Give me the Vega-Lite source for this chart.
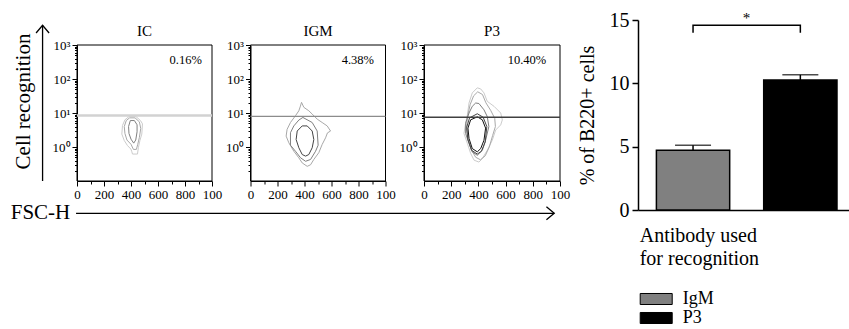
{
  "$schema": "https://vega.github.io/schema/vega-lite/v6.json",
  "padding": {"left": 10, "top": 10, "right": 0, "bottom": 0},
  "datasets": {
    "contours": [
      {"p":"IC","c":"IC1","l":"l1","o":0,"x":386,"y":7.9},{"p":"IC","c":"IC1","l":"l1","o":1,"x":436,"y":7.9},{"p":"IC","c":"IC1","l":"l1","o":2,"x":470,"y":6.0},{"p":"IC","c":"IC1","l":"l1","o":3,"x":485,"y":4.8},{"p":"IC","c":"IC1","l":"l1","o":4,"x":480,"y":2.4},{"p":"IC","c":"IC1","l":"l1","o":5,"x":466,"y":1.55},{"p":"IC","c":"IC1","l":"l1","o":6,"x":455,"y":0.98},{"p":"IC","c":"IC1","l":"l1","o":7,"x":448,"y":0.62},{"p":"IC","c":"IC1","l":"l1","o":8,"x":411,"y":0.62},{"p":"IC","c":"IC1","l":"l1","o":9,"x":405,"y":0.75},{"p":"IC","c":"IC1","l":"l1","o":10,"x":399,"y":0.87},{"p":"IC","c":"IC1","l":"l1","o":11,"x":374,"y":1.1},{"p":"IC","c":"IC1","l":"l1","o":12,"x":350,"y":1.55},{"p":"IC","c":"IC1","l":"l1","o":13,"x":332,"y":2.4},{"p":"IC","c":"IC1","l":"l1","o":14,"x":337,"y":4.3},{"p":"IC","c":"IC1","l":"l1","o":15,"x":355,"y":6.3},
      {"p":"IC","c":"IC2","l":"l2","o":0,"x":390,"y":7.2},{"p":"IC","c":"IC2","l":"l2","o":1,"x":430,"y":7.2},{"p":"IC","c":"IC2","l":"l2","o":2,"x":462,"y":5.5},{"p":"IC","c":"IC2","l":"l2","o":3,"x":472,"y":3.5},{"p":"IC","c":"IC2","l":"l2","o":4,"x":462,"y":1.9},{"p":"IC","c":"IC2","l":"l2","o":5,"x":450,"y":1.2},{"p":"IC","c":"IC2","l":"l2","o":6,"x":440,"y":0.85},{"p":"IC","c":"IC2","l":"l2","o":7,"x":418,"y":0.85},{"p":"IC","c":"IC2","l":"l2","o":8,"x":400,"y":1.2},{"p":"IC","c":"IC2","l":"l2","o":9,"x":370,"y":1.6},{"p":"IC","c":"IC2","l":"l2","o":10,"x":355,"y":2.5},{"p":"IC","c":"IC2","l":"l2","o":11,"x":350,"y":4.0},{"p":"IC","c":"IC2","l":"l2","o":12,"x":365,"y":6.0},
      {"p":"IC","c":"IC3","l":"l3","o":0,"x":395,"y":6.0},{"p":"IC","c":"IC3","l":"l3","o":1,"x":425,"y":6.0},{"p":"IC","c":"IC3","l":"l3","o":2,"x":445,"y":4.5},{"p":"IC","c":"IC3","l":"l3","o":3,"x":445,"y":2.8},{"p":"IC","c":"IC3","l":"l3","o":4,"x":435,"y":1.6},{"p":"IC","c":"IC3","l":"l3","o":5,"x":420,"y":1.3},{"p":"IC","c":"IC3","l":"l3","o":6,"x":400,"y":1.7},{"p":"IC","c":"IC3","l":"l3","o":7,"x":385,"y":2.5},{"p":"IC","c":"IC3","l":"l3","o":8,"x":382,"y":4.0},
      {"p":"IGM","c":"G1","l":"l2","o":0,"x":378,"y":20.6},{"p":"IGM","c":"G1","l":"l2","o":1,"x":395,"y":14.7},{"p":"IGM","c":"G1","l":"l2","o":2,"x":432,"y":11.6},{"p":"IGM","c":"G1","l":"l2","o":3,"x":457,"y":9.3},{"p":"IGM","c":"G1","l":"l2","o":4,"x":494,"y":6.6},{"p":"IGM","c":"G1","l":"l2","o":5,"x":531,"y":5.25},{"p":"IGM","c":"G1","l":"l2","o":6,"x":568,"y":4.17},{"p":"IGM","c":"G1","l":"l2","o":7,"x":593,"y":2.95},{"p":"IGM","c":"G1","l":"l2","o":8,"x":570,"y":2.6},{"p":"IGM","c":"G1","l":"l2","o":9,"x":556,"y":1.86},{"p":"IGM","c":"G1","l":"l2","o":10,"x":531,"y":1.19},{"p":"IGM","c":"G1","l":"l2","o":11,"x":506,"y":0.68},{"p":"IGM","c":"G1","l":"l2","o":12,"x":469,"y":0.43},{"p":"IGM","c":"G1","l":"l2","o":13,"x":445,"y":0.3},{"p":"IGM","c":"G1","l":"l2","o":14,"x":420,"y":0.27},{"p":"IGM","c":"G1","l":"l2","o":15,"x":383,"y":0.34},{"p":"IGM","c":"G1","l":"l2","o":16,"x":358,"y":0.48},{"p":"IGM","c":"G1","l":"l2","o":17,"x":321,"y":0.75},{"p":"IGM","c":"G1","l":"l2","o":18,"x":284,"y":1.33},{"p":"IGM","c":"G1","l":"l2","o":19,"x":264,"y":2.09},{"p":"IGM","c":"G1","l":"l2","o":20,"x":271,"y":3.3},{"p":"IGM","c":"G1","l":"l2","o":21,"x":296,"y":5.25},{"p":"IGM","c":"G1","l":"l2","o":22,"x":333,"y":8.3},{"p":"IGM","c":"G1","l":"l2","o":23,"x":358,"y":11.6},{"p":"IGM","c":"G1","l":"l2","o":24,"x":370,"y":16},
      {"p":"IGM","c":"G2","l":"l3","o":0,"x":388,"y":7.4},{"p":"IGM","c":"G2","l":"l3","o":1,"x":457,"y":5.25},{"p":"IGM","c":"G2","l":"l3","o":2,"x":494,"y":2.95},{"p":"IGM","c":"G2","l":"l3","o":3,"x":501,"y":1.13},{"p":"IGM","c":"G2","l":"l3","o":4,"x":482,"y":0.75},{"p":"IGM","c":"G2","l":"l3","o":5,"x":445,"y":0.43},{"p":"IGM","c":"G2","l":"l3","o":6,"x":408,"y":0.38},{"p":"IGM","c":"G2","l":"l3","o":7,"x":371,"y":0.48},{"p":"IGM","c":"G2","l":"l3","o":8,"x":333,"y":0.75},{"p":"IGM","c":"G2","l":"l3","o":9,"x":296,"y":1.13},{"p":"IGM","c":"G2","l":"l3","o":10,"x":296,"y":2.63},{"p":"IGM","c":"G2","l":"l3","o":11,"x":321,"y":4.17},{"p":"IGM","c":"G2","l":"l3","o":12,"x":358,"y":6.2},
      {"p":"IGM","c":"G3","l":"l4","o":0,"x":383,"y":4.17},{"p":"IGM","c":"G3","l":"l4","o":1,"x":420,"y":4.17},{"p":"IGM","c":"G3","l":"l4","o":2,"x":457,"y":2.95},{"p":"IGM","c":"G3","l":"l4","o":3,"x":469,"y":1.66},{"p":"IGM","c":"G3","l":"l4","o":4,"x":457,"y":0.95},{"p":"IGM","c":"G3","l":"l4","o":5,"x":432,"y":0.6},{"p":"IGM","c":"G3","l":"l4","o":6,"x":408,"y":0.54},{"p":"IGM","c":"G3","l":"l4","o":7,"x":383,"y":0.6},{"p":"IGM","c":"G3","l":"l4","o":8,"x":358,"y":0.95},{"p":"IGM","c":"G3","l":"l4","o":9,"x":338,"y":1.66},{"p":"IGM","c":"G3","l":"l4","o":10,"x":346,"y":2.95},
      {"p":"P3","c":"P1","l":"l1","o":0,"x":392,"y":55},{"p":"P3","c":"P1","l":"l1","o":1,"x":417,"y":51},{"p":"P3","c":"P1","l":"l1","o":2,"x":441,"y":39},{"p":"P3","c":"P1","l":"l1","o":3,"x":465,"y":22},{"p":"P3","c":"P1","l":"l1","o":4,"x":515,"y":15.7},{"p":"P3","c":"P1","l":"l1","o":5,"x":564,"y":10},{"p":"P3","c":"P1","l":"l1","o":6,"x":576,"y":6.3},{"p":"P3","c":"P1","l":"l1","o":7,"x":564,"y":4.47},{"p":"P3","c":"P1","l":"l1","o":8,"x":527,"y":3.16},{"p":"P3","c":"P1","l":"l1","o":9,"x":502,"y":1.58},{"p":"P3","c":"P1","l":"l1","o":10,"x":465,"y":0.8},{"p":"P3","c":"P1","l":"l1","o":11,"x":429,"y":0.46},{"p":"P3","c":"P1","l":"l1","o":12,"x":404,"y":0.36},{"p":"P3","c":"P1","l":"l1","o":13,"x":368,"y":0.41},{"p":"P3","c":"P1","l":"l1","o":14,"x":343,"y":0.65},{"p":"P3","c":"P1","l":"l1","o":15,"x":319,"y":1.27},{"p":"P3","c":"P1","l":"l1","o":16,"x":294,"y":2.5},{"p":"P3","c":"P1","l":"l1","o":17,"x":306,"y":5.0},{"p":"P3","c":"P1","l":"l1","o":18,"x":319,"y":8.8},{"p":"P3","c":"P1","l":"l1","o":19,"x":331,"y":19.7},{"p":"P3","c":"P1","l":"l1","o":20,"x":355,"y":39},
      {"p":"P3","c":"P2","l":"l2","o":0,"x":395,"y":42},{"p":"P3","c":"P2","l":"l2","o":1,"x":430,"y":35},{"p":"P3","c":"P2","l":"l2","o":2,"x":455,"y":20},{"p":"P3","c":"P2","l":"l2","o":3,"x":490,"y":12},{"p":"P3","c":"P2","l":"l2","o":4,"x":520,"y":7},{"p":"P3","c":"P2","l":"l2","o":5,"x":525,"y":4},{"p":"P3","c":"P2","l":"l2","o":6,"x":505,"y":2.2},{"p":"P3","c":"P2","l":"l2","o":7,"x":480,"y":1.0},{"p":"P3","c":"P2","l":"l2","o":8,"x":450,"y":0.55},{"p":"P3","c":"P2","l":"l2","o":9,"x":415,"y":0.42},{"p":"P3","c":"P2","l":"l2","o":10,"x":380,"y":0.5},{"p":"P3","c":"P2","l":"l2","o":11,"x":350,"y":0.8},{"p":"P3","c":"P2","l":"l2","o":12,"x":325,"y":1.6},{"p":"P3","c":"P2","l":"l2","o":13,"x":312,"y":3.5},{"p":"P3","c":"P2","l":"l2","o":14,"x":320,"y":8},{"p":"P3","c":"P2","l":"l2","o":15,"x":340,"y":18},{"p":"P3","c":"P2","l":"l2","o":16,"x":365,"y":32},
      {"p":"P3","c":"P3c","l":"l3","o":0,"x":380,"y":19.7},{"p":"P3","c":"P3c","l":"l3","o":1,"x":404,"y":19},{"p":"P3","c":"P3c","l":"l3","o":2,"x":441,"y":12.4},{"p":"P3","c":"P3c","l":"l3","o":3,"x":465,"y":7.9},{"p":"P3","c":"P3c","l":"l3","o":4,"x":477,"y":4.0},{"p":"P3","c":"P3c","l":"l3","o":5,"x":453,"y":1.58},{"p":"P3","c":"P3c","l":"l3","o":6,"x":429,"y":0.8},{"p":"P3","c":"P3c","l":"l3","o":7,"x":392,"y":0.57},{"p":"P3","c":"P3c","l":"l3","o":8,"x":355,"y":0.72},{"p":"P3","c":"P3c","l":"l3","o":9,"x":331,"y":1.27},{"p":"P3","c":"P3c","l":"l3","o":10,"x":306,"y":2.5},{"p":"P3","c":"P3c","l":"l3","o":11,"x":306,"y":5.0},{"p":"P3","c":"P3c","l":"l3","o":12,"x":331,"y":10},{"p":"P3","c":"P3c","l":"l3","o":13,"x":355,"y":15.7},
      {"p":"P3","c":"P4","l":"l4","o":0,"x":392,"y":9.5},{"p":"P3","c":"P4","l":"l4","o":1,"x":435,"y":7.5},{"p":"P3","c":"P4","l":"l4","o":2,"x":462,"y":4},{"p":"P3","c":"P4","l":"l4","o":3,"x":450,"y":1.4},{"p":"P3","c":"P4","l":"l4","o":4,"x":422,"y":0.75},{"p":"P3","c":"P4","l":"l4","o":5,"x":392,"y":0.62},{"p":"P3","c":"P4","l":"l4","o":6,"x":350,"y":0.8},{"p":"P3","c":"P4","l":"l4","o":7,"x":322,"y":1.7},{"p":"P3","c":"P4","l":"l4","o":8,"x":314,"y":3.8},{"p":"P3","c":"P4","l":"l4","o":9,"x":335,"y":7.2},
      {"p":"P3","c":"P5","l":"l5","o":0,"x":392,"y":7.7},{"p":"P3","c":"P5","l":"l5","o":1,"x":429,"y":6.3},{"p":"P3","c":"P5","l":"l5","o":2,"x":453,"y":3.6},{"p":"P3","c":"P5","l":"l5","o":3,"x":441,"y":1.58},{"p":"P3","c":"P5","l":"l5","o":4,"x":417,"y":0.9},{"p":"P3","c":"P5","l":"l5","o":5,"x":392,"y":0.72},{"p":"P3","c":"P5","l":"l5","o":6,"x":355,"y":0.9},{"p":"P3","c":"P5","l":"l5","o":7,"x":331,"y":1.78},{"p":"P3","c":"P5","l":"l5","o":8,"x":323,"y":3.6},{"p":"P3","c":"P5","l":"l5","o":9,"x":343,"y":6.3}
    ],
    "bars": [{"ab":"IgM","m":4.71,"hi":5.11},{"ab":"P3","m":10.26,"hi":10.67}],
    "bracket": [{"ab":"IgM","y":14.0,"o":0},{"ab":"IgM","y":14.58,"o":1},{"ab":"P3","y":14.58,"o":2},{"ab":"P3","y":14.0,"o":3}]
  },
  "hconcat": [
    {
      "hconcat": [
        {
          "width": 135, "height": 161,
          "layer": [
            {
              "data": {"name": "contours"},
              "transform": [{"filter": "datum.p === 'IC'"}],
              "mark": {"type": "line", "interpolate": "linear-closed"},
              "encoding": {
                "x": {"field": "x", "type": "quantitative", "scale": {"domain": [0, 1000], "nice": false, "zero": false},
                  "axis": {"title": null, "values": [0,100,200,300,400,500,600,700,800,900,1000], "tickCount": 100, "labelExpr": "datum.value == 0 ? '0' : datum.value == 200 ? '200' : datum.value == 400 ? '400' : datum.value == 600 ? '600' : datum.value == 800 ? '800' : datum.value == 1000 ? '100' : ''", "tickSize": {"condition": {"test": "datum.value % 200 === 0", "value": 5}, "value": 3}, "labelFontSize": 13, "labelPadding": 2, "labelOverlap": false, "labelFlush": false}},
                "y": {"field": "y", "type": "quantitative", "scale": {"type": "log", "domain": [0.1, 1000], "range": [161, 25], "nice": false},
                  "axis": {"title": "Cell recognition", "titleFontSize": 21, "titleX": -44, "titleY": 81, "values": [0.2,0.3,0.4,0.5,0.6,0.7,0.8,0.9,1,2,3,4,5,6,7,8,9,10,20,30,40,50,60,70,80,90,100,200,300,400,500,600,700,800,900,1000], "tickCount": 100, "labelExpr": "datum.value == 1 ? '10⁰' : datum.value == 10 ? '10¹' : datum.value == 100 ? '10²' : datum.value == 1000 ? '10³' : ''", "tickSize": {"condition": {"test": "datum.value == 1 || datum.value == 10 || datum.value == 100 || datum.value == 1000", "value": 5}, "value": 2.5}, "labelFontSize": 13, "labelOverlap": false, "labelFlush": false}},
                "detail": {"field": "c"},
                "order": {"field": "o", "type": "quantitative"},
                "color": {"field": "l", "type": "nominal", "scale": {"domain": ["l1","l2","l3","l4","l5"], "range": ["#cccccc","#a8a8a8","#808080","#444444","#111111"]}, "legend": null},
                "strokeWidth": {"field": "l", "type": "nominal", "scale": {"domain": ["l1","l2","l3","l4","l5"], "range": [1,1,1,1.1,1.8]}, "legend": null}
              }
            },
            {"data": {"values": [{}]}, "mark": {"type": "rect", "filled": false, "color": "black", "strokeWidth": 1}, "encoding": {"x": {"datum": 0}, "x2": {"datum": 1000}, "y": {"datum": 0.1}, "y2": {"datum": 1000}}},
            {"data": {"values": [{"g": 8.5}]}, "mark": {"type": "rule", "color": "#d2d2d2", "strokeWidth": 2.5}, "encoding": {"y": {"field": "g", "type": "quantitative"}}},
            {"data": {"values": [{"t": "0.16%"}]}, "mark": {"type": "text", "fontSize": 12.5, "color": "black", "font": "Liberation Serif"}, "encoding": {"x": {"datum": 805}, "y": {"datum": 360}, "text": {"field": "t"}}},
            {"data": {"values": [{"t": "IC"}]}, "mark": {"type": "text", "fontSize": 15, "color": "black", "font": "Liberation Serif", "clip": false}, "encoding": {"x": {"datum": 500}, "y": {"datum": 2600}, "text": {"field": "t"}}},
            {"data": {"values": [{}]}, "mark": {"type": "rule", "clip": false, "color": "black", "strokeWidth": 1.3}, "encoding": {"x": {"datum": -255}, "y": {"datum": 0.1}, "y2": {"datum": 3820}}},
            {"data": {"values": [{}]}, "mark": {"type": "point", "clip": false, "shape": "M-1,1.2L0,0L1,1.2", "size": 169, "filled": false, "color": "black", "strokeWidth": 1.3, "opacity": 1}, "encoding": {"x": {"datum": -255}, "y": {"datum": 3820}}},
            {"data": {"values": [{}]}, "mark": {"type": "rule", "clip": false, "color": "black", "strokeWidth": 1.3}, "encoding": {"x": {"datum": -7}, "x2": {"datum": 3535}, "y": {"datum": 0.0112}}},
            {"data": {"values": [{}]}, "mark": {"type": "point", "clip": false, "shape": "M-1.2,-1L0,0L-1.2,1", "size": 169, "filled": false, "color": "black", "strokeWidth": 1.3, "opacity": 1}, "encoding": {"x": {"datum": 3535}, "y": {"datum": 0.0112}}},
            {"data": {"values": [{"t": "FSC-H"}]}, "mark": {"type": "text", "clip": false, "fontSize": 21, "align": "right", "baseline": "middle", "color": "black", "font": "Liberation Serif"}, "encoding": {"x": {"datum": -50}, "y": {"datum": 0.0112}, "text": {"field": "t"}}}
          ]
        },
        {
          "width": 135, "height": 161,
          "layer": [
            {
              "data": {"name": "contours"},
              "transform": [{"filter": "datum.p === 'IGM'"}],
              "mark": {"type": "line", "interpolate": "linear-closed"},
              "encoding": {
                "x": {"field": "x", "type": "quantitative", "scale": {"domain": [0, 1000], "nice": false, "zero": false},
                  "axis": {"title": null, "values": [0,100,200,300,400,500,600,700,800,900,1000], "tickCount": 100, "labelExpr": "datum.value == 0 ? '0' : datum.value == 200 ? '200' : datum.value == 400 ? '400' : datum.value == 600 ? '600' : datum.value == 800 ? '800' : datum.value == 1000 ? '100' : ''", "tickSize": {"condition": {"test": "datum.value % 200 === 0", "value": 5}, "value": 3}, "labelFontSize": 13, "labelPadding": 2, "labelOverlap": false, "labelFlush": false}},
                "y": {"field": "y", "type": "quantitative", "scale": {"type": "log", "domain": [0.1, 1000], "range": [161, 25], "nice": false},
                  "axis": {"title": null, "values": [0.2,0.3,0.4,0.5,0.6,0.7,0.8,0.9,1,2,3,4,5,6,7,8,9,10,20,30,40,50,60,70,80,90,100,200,300,400,500,600,700,800,900,1000], "tickCount": 100, "labelExpr": "datum.value == 1 ? '10⁰' : datum.value == 10 ? '10¹' : datum.value == 100 ? '10²' : datum.value == 1000 ? '10³' : ''", "tickSize": {"condition": {"test": "datum.value == 1 || datum.value == 10 || datum.value == 100 || datum.value == 1000", "value": 5}, "value": 2.5}, "labelFontSize": 13, "labelOverlap": false, "labelFlush": false}},
                "detail": {"field": "c"},
                "order": {"field": "o", "type": "quantitative"},
                "color": {"field": "l", "type": "nominal", "scale": {"domain": ["l1","l2","l3","l4","l5"], "range": ["#cccccc","#a8a8a8","#808080","#444444","#111111"]}, "legend": null},
                "strokeWidth": {"field": "l", "type": "nominal", "scale": {"domain": ["l1","l2","l3","l4","l5"], "range": [1,1,1,1.1,1.8]}, "legend": null}
              }
            },
            {"data": {"values": [{}]}, "mark": {"type": "rect", "filled": false, "color": "black", "strokeWidth": 1}, "encoding": {"x": {"datum": 0}, "x2": {"datum": 1000}, "y": {"datum": 0.1}, "y2": {"datum": 1000}}},
            {"data": {"values": [{"g": 8.0}]}, "mark": {"type": "rule", "color": "#8c8c8c", "strokeWidth": 1.3}, "encoding": {"y": {"field": "g", "type": "quantitative"}}},
            {"data": {"values": [{"t": "4.38%"}]}, "mark": {"type": "text", "fontSize": 12.5, "color": "black", "font": "Liberation Serif"}, "encoding": {"x": {"datum": 795}, "y": {"datum": 360}, "text": {"field": "t"}}},
            {"data": {"values": [{"t": "IGM"}]}, "mark": {"type": "text", "fontSize": 15, "color": "black", "font": "Liberation Serif", "clip": false}, "encoding": {"x": {"datum": 500}, "y": {"datum": 2600}, "text": {"field": "t"}}}
          ]
        },
        {
          "width": 136, "height": 161,
          "layer": [
            {
              "data": {"name": "contours"},
              "transform": [{"filter": "datum.p === 'P3'"}],
              "mark": {"type": "line", "interpolate": "linear-closed"},
              "encoding": {
                "x": {"field": "x", "type": "quantitative", "scale": {"domain": [0, 1000], "nice": false, "zero": false},
                  "axis": {"title": null, "values": [0,100,200,300,400,500,600,700,800,900,1000], "tickCount": 100, "labelExpr": "datum.value == 0 ? '0' : datum.value == 200 ? '200' : datum.value == 400 ? '400' : datum.value == 600 ? '600' : datum.value == 800 ? '800' : datum.value == 1000 ? '100' : ''", "tickSize": {"condition": {"test": "datum.value % 200 === 0", "value": 5}, "value": 3}, "labelFontSize": 13, "labelPadding": 2, "labelOverlap": false, "labelFlush": false}},
                "y": {"field": "y", "type": "quantitative", "scale": {"type": "log", "domain": [0.1, 1000], "range": [161, 25], "nice": false},
                  "axis": {"title": null, "values": [0.2,0.3,0.4,0.5,0.6,0.7,0.8,0.9,1,2,3,4,5,6,7,8,9,10,20,30,40,50,60,70,80,90,100,200,300,400,500,600,700,800,900,1000], "tickCount": 100, "labelExpr": "datum.value == 1 ? '10⁰' : datum.value == 10 ? '10¹' : datum.value == 100 ? '10²' : datum.value == 1000 ? '10³' : ''", "tickSize": {"condition": {"test": "datum.value == 1 || datum.value == 10 || datum.value == 100 || datum.value == 1000", "value": 5}, "value": 2.5}, "labelFontSize": 13, "labelOverlap": false, "labelFlush": false}},
                "detail": {"field": "c"},
                "order": {"field": "o", "type": "quantitative"},
                "color": {"field": "l", "type": "nominal", "scale": {"domain": ["l1","l2","l3","l4","l5"], "range": ["#cccccc","#a8a8a8","#808080","#444444","#111111"]}, "legend": null},
                "strokeWidth": {"field": "l", "type": "nominal", "scale": {"domain": ["l1","l2","l3","l4","l5"], "range": [1,1,1,1.1,1.8]}, "legend": null}
              }
            },
            {"data": {"values": [{}]}, "mark": {"type": "rect", "filled": false, "color": "black", "strokeWidth": 1}, "encoding": {"x": {"datum": 0}, "x2": {"datum": 1000}, "y": {"datum": 0.1}, "y2": {"datum": 1000}}},
            {"data": {"values": [{"g": 7.5}]}, "mark": {"type": "rule", "color": "#404040", "strokeWidth": 1.3}, "encoding": {"y": {"field": "g", "type": "quantitative"}}},
            {"data": {"values": [{"t": "10.40%"}]}, "mark": {"type": "text", "fontSize": 12.5, "color": "black", "font": "Liberation Serif"}, "encoding": {"x": {"datum": 757}, "y": {"datum": 360}, "text": {"field": "t"}}},
            {"data": {"values": [{"t": "P3"}]}, "mark": {"type": "text", "fontSize": 15, "color": "black", "font": "Liberation Serif", "clip": false}, "encoding": {"x": {"datum": 500}, "y": {"datum": 2600}, "text": {"field": "t"}}}
          ]
        }
      ],
      "spacing": 38.5,
      "bounds": "flush"
    },
    {
      "width": 211, "height": 190,
      "layer": [
        {
          "data": {"name": "bars"},
          "mark": {"type": "bar", "stroke": "black", "strokeWidth": 1.5},
          "encoding": {
            "x": {"field": "ab", "type": "nominal", "scale": {"domain": ["IgM", "P3"], "paddingInner": 0.317, "paddingOuter": 0.1417, "align": 0.605},
              "axis": {"title": null, "labels": false, "ticks": false, "domainWidth": 1.5}},
            "y": {"field": "m", "type": "quantitative", "scale": {"domain": [0, 15], "nice": false},
              "axis": {"title": "% of B220+ cells", "titleFont": "Liberation Serif", "labelFont": "Liberation Serif", "titleFontSize": 20, "titlePadding": 12, "values": [0, 5, 10, 15], "format": "d", "tickSize": 6, "tickWidth": 1.5, "domainWidth": 1.5, "labelFontSize": 20, "labelPadding": 3}},
            "color": {"field": "ab", "type": "nominal", "scale": {"domain": ["IgM", "P3"], "range": ["#808080", "#000000"]},
              "legend": {"orient": "none", "legendX": 1.7, "legendY": 206, "title": ["Antibody used", "for recognition"], "titleFont": "Liberation Serif", "labelFont": "Liberation Serif", "titleFontSize": 20, "titleLineHeight": 23, "titleFontWeight": "normal", "titleColor": "black", "titlePadding": 20, "labelFontSize": 18, "labelColor": "black", "symbolType": "M-1,-0.58H2.37V0.58H-1Z", "symbolSize": 361, "symbolStrokeColor": "black", "symbolStrokeWidth": 1, "labelOffset": 23, "rowPadding": 0, "padding": 0}}
          }
        },
        {
          "data": {"name": "bars"},
          "mark": {"type": "rule", "color": "black", "strokeWidth": 1.5},
          "encoding": {"x": {"field": "ab", "type": "nominal"}, "y": {"field": "m", "type": "quantitative"}, "y2": {"field": "hi"}}
        },
        {
          "data": {"name": "bars"},
          "mark": {"type": "tick", "color": "black", "size": 36, "thickness": 1.5, "orient": "horizontal"},
          "encoding": {"x": {"field": "ab", "type": "nominal"}, "y": {"field": "hi", "type": "quantitative"}}
        },
        {
          "data": {"name": "bracket"},
          "mark": {"type": "line", "color": "black", "strokeWidth": 1.5},
          "encoding": {"x": {"field": "ab", "type": "nominal"}, "y": {"field": "y", "type": "quantitative"}, "order": {"field": "o", "type": "quantitative"}}
        },
        {
          "data": {"values": [{"ab": "IgM", "t": "*", "y": 14.78}]},
          "mark": {"type": "text", "fontSize": 15, "baseline": "alphabetic", "color": "black", "font": "Liberation Serif"},
          "encoding": {"x": {"field": "ab", "type": "nominal", "bandPosition": 1.23}, "y": {"field": "y", "type": "quantitative"}, "text": {"field": "t"}}
        }
      ]
    }
  ],
  "spacing": 7,
  "resolve": {"scale": {"color": "independent", "strokeWidth": "independent"}, "legend": {"color": "independent"}},
  "config": {
    "font": "Liberation Serif",
    "view": {"stroke": null},
    "text": {"font": "Liberation Serif"},
    "axis": {"grid": false, "labelFont": "Liberation Serif", "titleFont": "Liberation Serif", "labelColor": "black", "tickColor": "black", "domainColor": "black", "titleColor": "black", "titleFontWeight": "normal", "labelFlush": false},
    "title": {"font": "Liberation Serif", "fontWeight": "normal", "color": "black"},
    "legend": {"titleFont": "Liberation Serif", "labelFont": "Liberation Serif", "titleFontWeight": "normal"}
  }
}
